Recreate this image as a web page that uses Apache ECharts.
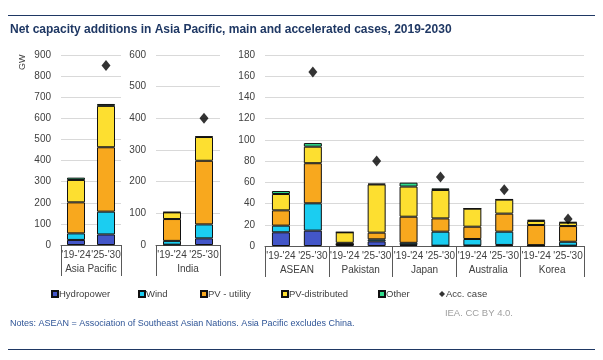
<!DOCTYPE html>
<html><head><meta charset="utf-8">
<script src="https://cdn.jsdelivr.net/npm/echarts@6/dist/echarts.min.js"></script>
<style>html,body{margin:0;padding:0;background:#fff}#c{width:603px;height:360px}</style>
</head><body><div id="c"></div>
<script>
const periods = ["'19-'24", "'25-'30"];
// Panel 1: Asia Pacific
const apGroups = ["Asia Pacific"];
const apHydro = [24, 50];
const apWind = [31, 108];
const apPvUtility = [147, 305];
const apPvDistributed = [106, 196];
const apOther = [11, 9];
const apAcc = [null, 850];
// Panel 2: India
const inGroups = ["India"];
const inHydro = [1, 21];
const inWind = [12, 44];
const inPvUtility = [69, 201];
const inPvDistributed = [21, 75];
const inOther = [1, 2];
const inAcc = [null, 400];
// Panel 3: ASEAN, Pakistan, Japan, Australia, Korea
const rGroups = ["ASEAN", "Pakistan", "Japan", "Australia", "Korea"];
const rPeriods = ["'19-'24", "'25-'30", "'19-'24", "'25-'30", "'19-'24", "'25-'30", "'19-'24", "'25-'30", "'19-'24", "'25-'30"];
const rHydro = [12.9, 14.5, 1.5, 4.4, 1, 0.3, 0.5, 1, 0.5, 0.3];
const rWind = [6.3, 25.7, 0, 1.9, 2, 13.2, 6.1, 12.5, 0.3, 3.7];
const rPvUtility = [14.4, 37.8, 1.5, 6.3, 24.6, 12.5, 11.6, 17, 19, 14.8];
const rPvDistributed = [15.4, 15.6, 9.9, 45.4, 28.4, 26.8, 17, 13.2, 3.8, 3.2];
const rOther = [2.8, 3.4, 0.1, 0.7, 3.7, 1.5, 0.1, 0.3, 1.2, 0.6];
const rAcc = [null, 164, null, 80, null, 65, null, 53, null, 25.5];
// y axis ticks
const yMax = [900, 600, 180];
const yInterval = [100, 100, 20];

const names = ['Hydropower', 'Wind', 'PV - utility', 'PV-distributed', 'Other'];
const colors = ['#4356C8', '#1BCDF1', '#F8A81E', '#FDDF30', '#2FDC8C'];
const FONT = 'Liberation Sans, Arial, sans-serif';
const TXT = '#404040';

const grids = [
  {left: 61, top: 55, width: 60, height: 190},
  {left: 156, top: 55, width: 64, height: 190},
  {left: 265, top: 55, width: 319, height: 191}
];
const panelCats = [periods, periods, rPeriods];
const panelGroups = [apGroups, inGroups, rGroups];
const panelData = [
  [apHydro, apWind, apPvUtility, apPvDistributed, apOther, apAcc],
  [inHydro, inWind, inPvUtility, inPvDistributed, inOther, inAcc],
  [rHydro, rWind, rPvUtility, rPvDistributed, rOther, rAcc]
];

const xAxis = [], yAxis = [], series = [];
for (let i = 0; i < 3; i++) {
  xAxis.push({
    type: 'category', gridIndex: i, data: panelCats[i],
    axisLine: {show: true, lineStyle: {color: '#595959', width: 1}},
    axisTick: {show: false},
    axisLabel: {interval: 0, margin: 5, fontSize: 10, color: TXT, fontFamily: FONT}
  });
  xAxis.push({
    type: 'category', gridIndex: i, data: panelGroups[i], position: 'bottom',
    axisLine: {show: false},
    axisTick: {show: true, interval: 0, length: 31, lineStyle: {color: '#595959', width: 1}},
    axisLabel: {interval: 0, margin: 19, fontSize: 10, color: TXT, fontFamily: FONT}
  });
  yAxis.push({
    type: 'value', gridIndex: i, min: 0, max: yMax[i], interval: yInterval[i],
    axisLine: {show: false}, axisTick: {show: false},
    splitLine: {lineStyle: {color: '#D9D9D9', width: 1}},
    axisLabel: {margin: 10, fontSize: 10, color: TXT, fontFamily: FONT}
  });
  for (let s = 0; s < 5; s++) {
    series.push({
      name: names[s], type: 'bar', stack: 'p' + i, xAxisIndex: 2 * i, yAxisIndex: i,
      data: panelData[i][s], barWidth: 18,
      itemStyle: {color: colors[s], borderColor: '#111', borderWidth: 1},
      emphasis: {disabled: true}
    });
  }
  series.push({
    name: 'Acc. case', type: 'scatter', xAxisIndex: 2 * i, yAxisIndex: i,
    data: panelData[i][5], symbol: 'diamond', symbolSize: [9, 11],
    itemStyle: {color: '#000'}, z: 5
  });
}

const legendPos = [46, 133, 195, 276, 373, 434];
const legendNames = names.concat(['Acc. case']);
const legends = legendNames.map((n, k) => ({
  data: [n], left: legendPos[k], top: 284, itemWidth: 6, itemHeight: 6, itemGap: 0,
  icon: n === 'Acc. case' ? 'diamond' : 'rect', selectedMode: false,
  textStyle: {fontSize: 9.5, color: TXT, fontFamily: FONT, padding: [0, 0, 0, -4]}
}));

const chart = echarts.init(document.getElementById('c'));
chart.setOption({
  animation: false,
  backgroundColor: '#fff',
  grid: grids,
  xAxis: xAxis, yAxis: yAxis, series: series,
  legend: legends,
  graphic: [
    {type: 'line', shape: {x1: 8, y1: 15.5, x2: 595, y2: 15.5}, style: {stroke: '#1F3864', lineWidth: 1.2}},
    {type: 'line', shape: {x1: 8, y1: 349.5, x2: 595, y2: 349.5}, style: {stroke: '#1F3864', lineWidth: 1.2}},
    {type: 'text', left: 10, top: 23.5, style: {text: 'Net capacity additions in Asia Pacific, main and accelerated cases, 2019-2030', fontSize: 12, fontWeight: 'bold', fill: '#1F3864', fontFamily: FONT}},
    {type: 'text', x: 18, y: 70, rotation: Math.PI / 2, style: {text: 'GW', fontSize: 9, fill: TXT, fontFamily: FONT}},
    {type: 'text', right: 90, top: 308, style: {text: 'IEA. CC BY 4.0.', fontSize: 9.5, fill: '#A0A0A0', fontFamily: FONT}},
    {type: 'text', left: 10, top: 319, style: {text: 'Notes: ASEAN = Association of Southeast Asian Nations. Asia Pacific excludes China.', fontSize: 9, fill: '#2F5597', fontFamily: FONT}}
  ]
});
</script></body></html>
